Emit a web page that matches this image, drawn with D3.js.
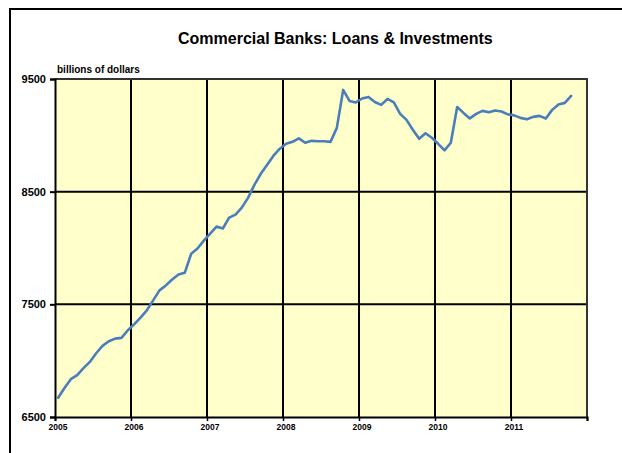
<!DOCTYPE html>
<html>
<head>
<meta charset="utf-8">
<script src="https://cdn.jsdelivr.net/npm/d3@7"></script>
<style>
  html, body { margin: 0; padding: 0; background: #fff; }
  svg { display: block; }
  text { font-family: "Liberation Sans", Arial, sans-serif; font-weight: bold; fill: #000; }
</style>
</head>
<body>
<svg id="chart" width="622" height="453"></svg>
<script>
// Commercial banks: loans & investments, billions of dollars, monthly Jan 2005 - Oct 2011
const startYear = 2005;
const loansInvestments = [
  6671, 6757, 6836, 6872, 6934, 6989, 7066, 7131, 7172, 7196, 7202, 7270,   // 2005
  7323, 7382, 7447, 7535, 7624, 7668, 7721, 7765, 7781, 7949, 7996, 8066,   // 2006
  8128, 8190, 8173, 8270, 8296, 8358, 8447, 8562, 8659, 8739, 8819, 8881,   // 2007
  8925, 8942, 8973, 8934, 8951, 8947, 8947, 8942, 9066, 9403, 9305, 9292,   // 2008
  9327, 9341, 9296, 9270, 9323, 9292, 9190, 9137, 9049, 8969, 9018, 8978,   // 2009
  8925, 8867, 8934, 9252, 9199, 9150, 9190, 9217, 9204, 9221, 9212, 9186,   // 2010
  9177, 9155, 9142, 9164, 9173, 9150, 9226, 9274, 9288, 9350                // 2011
];
const yearTicks = [2005, 2006, 2007, 2008, 2009, 2010, 2011, 2012];
const yearLabels = ["2005", "2006", "2007", "2008", "2009", "2010", "2011"];
const valueTicks = [6500, 7500, 8500, 9500];
const titleText = "Commercial Banks: Loans & Investments";
const unitText = "billions of dollars";

const svg = d3.select("#chart");
const plot = { left: 55, right: 587, top: 79, bottom: 417 };

// monthly observations are placed mid-month on a decimal-year axis
const series = loansInvestments.map((v, i) => ({ t: startYear + (i + 0.5) / 12, v }));

const x = d3.scaleLinear().domain([2005, 2012]).range([plot.left, plot.right]);
const y = d3.scaleLinear().domain([6500, 9500]).range([plot.bottom, plot.top]);

// outer frame (only the top and left edges fall inside the page)
svg.append("rect")
  .attr("x", 10).attr("y", 9)
  .attr("width", 700).attr("height", 600)
  .attr("fill", "#fff").attr("stroke", "#000").attr("stroke-width", 2);

// title and unit label
svg.append("text")
  .attr("x", 178).attr("y", 44)
  .attr("font-size", 16)
  .text(titleText);

svg.append("text")
  .attr("x", 57).attr("y", 73)
  .attr("font-size", 10)
  .text(unitText);

// plot background
svg.append("rect")
  .attr("x", plot.left).attr("y", plot.top)
  .attr("width", plot.right - plot.left).attr("height", plot.bottom - plot.top)
  .attr("fill", "#FFFFCC");

// gridlines
const grid = svg.append("g");
grid.selectAll("line.h")
  .data(valueTicks.filter(d => d > 6500 && d < 9500))
  .join("line")
  .attr("x1", plot.left).attr("x2", plot.right)
  .attr("y1", d => y(d)).attr("y2", d => y(d))
  .attr("stroke", "#000").attr("stroke-width", 2);
grid.selectAll("line.v")
  .data(yearTicks.filter(d => d > 2005 && d < 2012))
  .join("line")
  .attr("x1", d => x(d)).attr("x2", d => x(d))
  .attr("y1", plot.top).attr("y2", plot.bottom)
  .attr("stroke", "#000").attr("stroke-width", 2);

// plot border (top and right)
svg.append("path")
  .attr("d", `M${plot.left},${plot.top}H${plot.right}V${plot.bottom}`)
  .attr("fill", "none").attr("stroke", "#333").attr("stroke-width", 2);

// y axis
const yAxis = d3.axisLeft(y)
  .tickValues(valueTicks)
  .tickFormat(d3.format("d"))
  .tickSize(5)
  .tickPadding(4);
const gy = svg.append("g")
  .attr("transform", `translate(${plot.left},0)`)
  .call(yAxis);
gy.select(".domain").attr("stroke", "#000").attr("stroke-width", 2);
gy.selectAll(".tick line").attr("stroke", "#000").attr("stroke-width", 2);
gy.selectAll(".tick text")
  .attr("font-size", 11)
  .attr("font-family", "Liberation Sans, Arial, sans-serif")
  .attr("font-weight", "bold")
  .attr("fill", "#000");

// x axis
const xAxis = d3.axisBottom(x)
  .tickValues(yearTicks)
  .tickFormat(d => yearLabels[yearTicks.indexOf(d)] || "")
  .tickSize(4)
  .tickPadding(3);
const gx = svg.append("g")
  .attr("transform", `translate(0,${plot.bottom})`)
  .call(xAxis);
gx.select(".domain").attr("stroke", "#000").attr("stroke-width", 2);
gx.selectAll(".tick line").attr("stroke", "#000").attr("stroke-width", 1.5);
gx.selectAll(".tick text")
  .attr("font-size", 8.5)
  .attr("dx", 2.5)
  .attr("font-family", "Liberation Sans, Arial, sans-serif")
  .attr("font-weight", "bold")
  .attr("fill", "#000");

// data line
const line = d3.line()
  .x(d => x(d.t))
  .y(d => y(d.v));
svg.append("path")
  .datum(series)
  .attr("d", line)
  .attr("fill", "none")
  .attr("stroke", "#4A7EBB")
  .attr("stroke-width", 2.6)
  .attr("stroke-linejoin", "round")
  .attr("stroke-linecap", "round");
</script>
</body>
</html>
